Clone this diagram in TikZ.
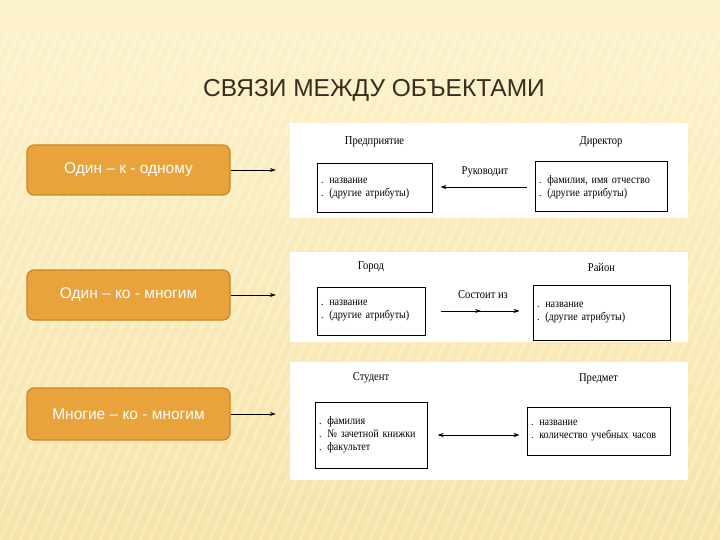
\documentclass[tikz,border=0pt]{standalone}
\usepackage{fontspec}
\setmainfont{Liberation Serif}
\newfontfamily\arialfont{Liberation Sans}
\newfontfamily\scanfont{Liberation Serif}[FakeStretch=0.88]
\usetikzlibrary{positioning,arrows.meta,decorations.markings}

\definecolor{bgyellow}{RGB}{252,242,204}
\definecolor{bgdeep}{RGB}{246,228,168}
\definecolor{boxorange}{RGB}{232,163,61}
\definecolor{boxedge}{RGB}{204,134,38}
\definecolor{titlebrown}{RGB}{58,44,30}

\begin{document}
\begin{tikzpicture}[x=1pt, y=-1pt,
  kind/.style={draw=boxedge, fill=boxorange, rounded corners=7pt, line width=1.2pt,
    minimum width=203pt, minimum height=50pt, text=white,
    font=\arialfont\fontsize{15.5}{17}\selectfont},
  panel/.style={fill=white, minimum width=398pt, inner sep=0pt},
  entity/.style={draw, line width=1pt, align=left, inner xsep=4pt, text width=#1,
    font=\scanfont\fontsize{11.5}{13}\selectfont},
  entname/.style={font=\scanfont\fontsize{12}{14}\selectfont},
  rellabel/.style={font=\scanfont\fontsize{12}{14}\selectfont},
  link/.style={-{Stealth[length=6pt,width=4pt]}, line width=0.7pt},
  midtip/.style={postaction={decorate, decoration={markings,
    mark=at position 0.52 with {\arrow{Stealth[length=6pt,width=4pt]}}}}},
]
\useasboundingbox (0,0) rectangle (720,540);
\shade[top color=bgyellow, bottom color=bgdeep] (0,0) rectangle (720,540);
% faint stripes of the slide background
\begin{scope}
  \clip (0,30) rectangle (720,540);
  \foreach \s in {-240,-230,...,720}
    \draw[white, opacity=0.25, line width=3pt] (\s,540) -- (\s+220,30);
\end{scope}

\node[font=\arialfont\fontsize{24.5}{27}\selectfont, text=titlebrown] (title) at (374,90)
  {СВЯЗИ МЕЖДУ ОБЪЕКТАМИ};

% kinds of relation
\node[kind] (one) at (128.5,170) {Один – к - одному};
\node[kind] (many) at (128.5,295) {Один – ко - многим};
\node[kind, minimum height=52pt] (manymany) at (128.5,414) {Многие – ко - многим};

% white panels with the examples
\node[panel, minimum height=95pt] (p1) at (489,170.5) {};
\node[panel, minimum height=90pt] (p2) at (489,297) {};
\node[panel, minimum height=118pt] (p3) at (489,421) {};

\draw[link, shorten >=14pt] (one.east) -- (one.east -| p1.west);
\draw[link, shorten >=14pt] (many.east) -- (many.east -| p2.west);
\draw[link, shorten >=14pt] (manymany.east) -- (manymany.east -| p3.west);

% panel 1
\node[entity=107pt, minimum height=49pt] (firm) at (374.5,188.5)
  {. название\\. (другие атрибуты)};
\node[entity=124pt, minimum height=50pt] (boss) at (601,187)
  {. фамилия, имя отчество\\. (другие атрибуты)};
\node[entname, above=13pt of firm] (firmname) {Предприятие};
\node[entname, above=11pt of boss] (bossname) {Директор};
\node[rellabel] (leads) at (485,172) {Руководит};
\draw[link, shorten <=8pt, shorten >=8pt] (boss.west) -- (boss.west -| firm.east);

% panel 2
\node[entity=100pt, minimum height=48pt] (city) at (371,311)
  {. название\\. (другие атрибуты)};
\node[entity=129pt, minimum height=55pt] (district) at (601.5,312.5)
  {. название\\. (другие атрибуты)};
\node[entname, above=11pt of city] (cityname) {Город};
\node[entname, above=9pt of district] (districtname) {Район};
\node[rellabel] (consists) at (483,295) {Состоит из};
\draw[link, midtip, shorten <=15pt, shorten >=13pt] (city.east) -- (city.east -| district.west);

% panel 3
\node[entity=104pt, minimum height=66pt] (student) at (371,435)
  {. фамилия\\. № зачетной книжки\\. факультет};
\node[entity=135pt, minimum height=48pt] (subject) at (598.5,431)
  {. название\\. количество учебных часов};
\node[entname, above=15pt of student] (studentname) {Студент};
\node[entname, above=19pt of subject] (subjectname) {Предмет};
\draw[{Stealth[length=6pt,width=4pt]}-{Stealth[length=6pt,width=4pt]}, line width=0.7pt,
  shorten <=10pt, shorten >=7pt] (student.east) -- (student.east -| subject.west);
\end{tikzpicture}
\end{document}
